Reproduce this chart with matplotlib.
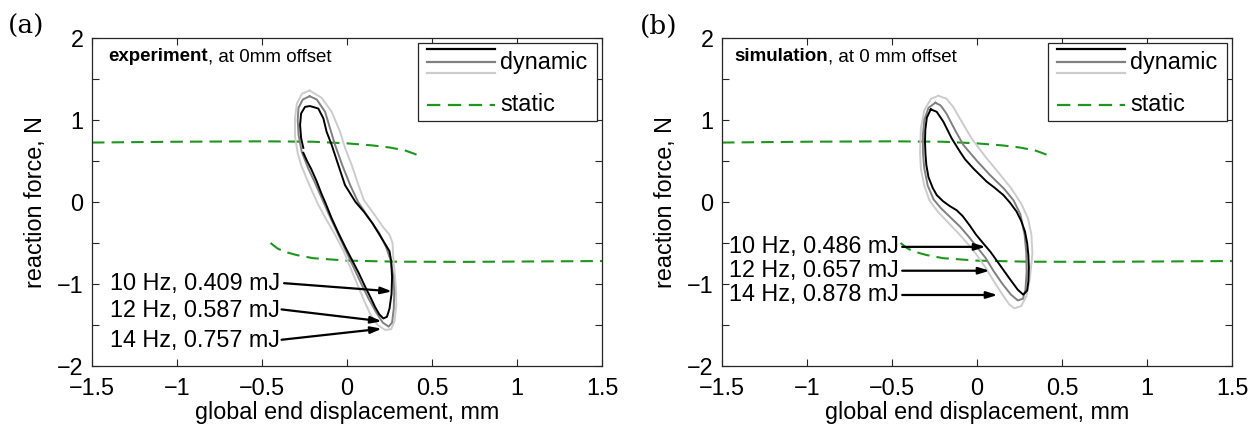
import matplotlib
matplotlib.use("Agg")
import matplotlib.pyplot as plt
import numpy as np
from matplotlib.patches import Rectangle

plt.rcParams["font.family"] = ["Liberation Sans", "DejaVu Sans"]
plt.rcParams["axes.unicode_minus"] = True

# ── Static (quasi-static) force curves, same in both panels ──────────────────
static_up_x = [-1.5, -1.0, -0.5, -0.2, 0.0, 0.15, 0.25, 0.34, 0.40, 0.43]
static_up_y = [0.725, 0.735, 0.74, 0.735, 0.715, 0.69, 0.665, 0.63, 0.585, 0.555]
static_lo_x = [-0.45, -0.41, -0.37, -0.30, -0.20, 0.0, 0.30, 0.70, 1.10, 1.50]
static_lo_y = [-0.50, -0.565, -0.605, -0.645, -0.685, -0.715, -0.728, -0.73, -0.725, -0.72]

# ── (a) experiment: dynamic loops ─────────────────────────────────────────────
exp_10hz_x = [-0.257, -0.235, -0.21, -0.178, -0.15, -0.125, -0.09, -0.05, -0.01, 0.03,
              0.07, 0.106, 0.14, 0.165, 0.19, 0.214, 0.235, 0.25, 0.262, 0.265,
              0.26, 0.25, 0.215, 0.15, 0.10, 0.05, -0.012, -0.051, -0.09, -0.12,
              -0.139, -0.169, -0.218, -0.247, -0.27, -0.276, -0.27, -0.257]
exp_10hz_y = [0.60, 0.50, 0.40, 0.25, 0.10, -0.02, -0.20, -0.38, -0.55, -0.71,
              -0.87, -1.03, -1.17, -1.28, -1.37, -1.42, -1.40, -1.30, -1.12, -0.92,
              -0.72, -0.60, -0.48, -0.26, -0.12, 0.0, 0.207, 0.45, 0.695, 0.857,
              1.02, 1.14, 1.17, 1.16, 1.08, 0.94, 0.78, 0.66]

exp_12hz_x = [-0.22, -0.26, -0.285, -0.29, -0.285, -0.266, -0.228, -0.185, -0.145, -0.10,
              -0.055, -0.01, 0.035, 0.08, 0.125, 0.17, 0.21, 0.245, 0.265, 0.275,
              0.278, 0.272, 0.255, 0.23, 0.19, 0.13, 0.065, 0.02, -0.028, -0.07,
              -0.10, -0.129, -0.178, -0.22]
exp_12hz_y = [1.29, 1.25, 1.15, 1.0, 0.82, 0.61, 0.41, 0.22, 0.03, -0.18,
              -0.38, -0.58, -0.78, -0.98, -1.17, -1.34, -1.47, -1.52, -1.47, -1.30,
              -1.10, -0.90, -0.70, -0.55, -0.38, -0.20, 0.0, 0.20, 0.45, 0.695,
              0.90, 1.10, 1.25, 1.29]

exp_14hz_x = [-0.22, -0.265, -0.295, -0.306, -0.306, -0.29, -0.27, -0.24, -0.205, -0.17,
              -0.12, -0.07, -0.02, 0.02, 0.06, 0.10, 0.14, 0.18, 0.225, 0.26,
              0.28, 0.29, 0.288, 0.28, 0.272, 0.268, 0.25, 0.21, 0.16, 0.10,
              0.06, 0.028, -0.01, -0.041, -0.09, -0.149, -0.22]
exp_14hz_y = [1.36, 1.32, 1.20, 1.02, 0.80, 0.60, 0.45, 0.30, 0.13, -0.03,
              -0.22, -0.40, -0.60, -0.80, -1.0, -1.2, -1.38, -1.50, -1.56, -1.55,
              -1.45, -1.25, -1.05, -0.85, -0.67, -0.50, -0.40, -0.30, -0.15, 0.02,
              0.25, 0.45, 0.65, 0.857, 1.10, 1.27, 1.36]

# ── (b) simulation: dynamic loops ─────────────────────────────────────────────
sim_10hz_x = [-0.272, -0.295, -0.304, -0.306, -0.303, -0.298, -0.285, -0.26, -0.237, -0.20,
              -0.16, -0.12, -0.085, -0.045, -0.005, 0.035, 0.08, 0.135, 0.19, 0.24,
              0.272, 0.295, 0.302, 0.305, 0.302, 0.295, 0.282, 0.26, 0.233, 0.195,
              0.155, 0.10, 0.057, -0.022, -0.07, -0.10, -0.149, -0.198, -0.237, -0.272]
sim_10hz_y = [1.13, 1.03, 0.88, 0.735, 0.58, 0.45, 0.30, 0.17, 0.085, 0.01,
              -0.05, -0.10, -0.17, -0.28, -0.40, -0.50, -0.61, -0.77, -0.93, -1.07,
              -1.13, -1.08, -0.97, -0.80, -0.646, -0.50, -0.36, -0.23, -0.118, -0.01,
              0.085, 0.18, 0.248, 0.41, 0.52, 0.613, 0.776, 0.98, 1.10, 1.13]

sim_12hz_x = [-0.245, -0.285, -0.31, -0.318, -0.318, -0.31, -0.29, -0.255, -0.21, -0.15,
              -0.10, -0.05, 0.0, 0.05, 0.10, 0.15, 0.20, 0.24, 0.27, 0.285,
              0.292, 0.29, 0.28, 0.255, 0.215, 0.16, 0.076, 0.0, -0.08, -0.13,
              -0.18, -0.215, -0.245]
sim_12hz_y = [1.21, 1.15, 1.0, 0.82, 0.60, 0.41, 0.20, 0.03, -0.08, -0.20,
              -0.30, -0.42, -0.55, -0.68, -0.85, -1.0, -1.13, -1.20, -1.18, -1.07,
              -0.85, -0.62, -0.40, -0.15, 0.02, 0.16, 0.33, 0.50, 0.695, 0.88,
              1.08, 1.18, 1.21]

sim_14hz_x = [-0.228, -0.27, -0.31, -0.33, -0.335, -0.33, -0.31, -0.28, -0.23, -0.17,
              -0.11, -0.05, 0.0, 0.05, 0.10, 0.15, 0.19, 0.22, 0.26, 0.29,
              0.31, 0.326, 0.32, 0.30, 0.26, 0.20, 0.13, 0.05, -0.03, -0.09,
              -0.14, -0.18, -0.228]
sim_14hz_y = [1.295, 1.26, 1.12, 0.90, 0.60, 0.40, 0.20, 0.02, -0.12, -0.25,
              -0.38, -0.52, -0.65, -0.80, -0.97, -1.13, -1.25, -1.296, -1.27, -1.15,
              -0.95, -0.63, -0.40, -0.20, -0.02, 0.17, 0.35, 0.55, 0.77, 0.98,
              1.16, 1.26, 1.295]

# ── Loop energy labels: (text, text y, arrow tail, arrow head) ────────────────
freq_labels = ["10 Hz", "12 Hz", "14 Hz"]
exp_energy = ["0.409 mJ", "0.587 mJ", "0.757 mJ"]
sim_energy = ["0.486 mJ", "0.657 mJ", "0.878 mJ"]

exp_label_y = [-0.99, -1.32, -1.69]
exp_tail = [(-0.37, -0.99), (-0.385, -1.31), (-0.385, -1.68)]
exp_head = [(0.265, -1.09), (0.205, -1.455), (0.205, -1.545)]

sim_label_y = [-0.547, -0.838, -1.134]
sim_tail = [(-0.44, -0.547), (-0.44, -0.838), (-0.44, -1.134)]
sim_head = [(0.051, -0.547), (0.074, -0.838), (0.121, -1.134)]

LOOP_COLORS = ["black", "0.5", "0.8"]
GREEN = "#1e961e"
DASH = (0, (6, 3.4))
FS = 16.8


def draw_panel(ax, loops, label_y, tails, heads, energies, text_right,
               bold, rest, title_x):
    ax.plot(static_up_x, static_up_y, ls=DASH, color=GREEN, lw=1.5)
    ax.plot(static_lo_x, static_lo_y, ls=DASH, color=GREEN, lw=1.5)
    # lightest loop underneath, black on top
    for (lx, ly), c in reversed(list(zip(loops, LOOP_COLORS))):
        ax.plot(lx, ly, color=c, lw=1.4, solid_joinstyle="round")

    for f, e, ty, t, h in zip(freq_labels, energies, label_y, tails, heads):
        ax.text(text_right, ty, f"{f}, {e}", ha="right", va="center", fontsize=FS)
        ax.annotate("", xy=h, xytext=t,
                    arrowprops=dict(arrowstyle="-|>,head_length=0.65,head_width=0.2",
                                    color="black", lw=1.6, shrinkA=0, shrinkB=0))

    ax.set_xlim(-1.5, 1.5)
    ax.set_ylim(-2, 2)
    ax.set_xticks(np.arange(-1.5, 1.51, 0.5))
    ax.set_xticklabels(["−1.5", "−1", "−0.5", "0", "0.5", "1", "1.5"])
    ax.set_yticks(np.arange(-2, 2.01, 0.5))
    ax.set_yticklabels(["−2", "", "−1", "", "0", "", "1", "", "2"])
    ax.tick_params(direction="in", length=5, width=0.8, top=True, right=True,
                   labelsize=FS, colors="0.15", labelcolor="black")
    ax.tick_params(axis="x", pad=8)
    ax.tick_params(axis="y", pad=6)
    for s in ax.spines.values():
        s.set_linewidth(0.9)
        s.set_color("0.15")
    ax.set_xlabel("global end displacement, mm", fontsize=FS, labelpad=1)
    ax.set_ylabel("reaction force, N", fontsize=FS, labelpad=7)

    t = ax.text(title_x, 0.943, bold, transform=ax.transAxes, fontsize=13.5,
                fontweight="bold", va="center", ha="left")
    ax.annotate(rest, xy=(1, 0.5), xycoords=t, va="center", ha="left",
                fontsize=13.5)

    # legend box drawn in axes coordinates
    ax.add_patch(Rectangle((0.639, 0.748), 0.352, 0.238, transform=ax.transAxes,
                           facecolor="white", edgecolor="0.15", lw=0.9, zorder=5))
    for yy, c in zip([0.966, 0.928, 0.892], LOOP_COLORS):
        ax.plot([0.656, 0.79], [yy, yy], transform=ax.transAxes, color=c, lw=1.6,
                zorder=6)
    ax.plot([0.656, 0.79], [0.796, 0.796], transform=ax.transAxes, color=GREEN,
            lw=1.6, ls=DASH, zorder=6)
    ax.text(0.800, 0.926, "dynamic", transform=ax.transAxes, fontsize=FS,
            va="center", ha="left", zorder=7)
    ax.text(0.800, 0.796, "static", transform=ax.transAxes, fontsize=FS,
            va="center", ha="left", zorder=7)


fig = plt.figure(figsize=(12.53, 4.26), dpi=100)
W, H = 1253.0, 426.0
ax_a = fig.add_axes([92 / W, 60 / H, 510 / W, 328 / H])
ax_b = fig.add_axes([722 / W, 60 / H, 510 / W, 328 / H])

draw_panel(ax_a,
           [(exp_10hz_x, exp_10hz_y), (exp_12hz_x, exp_12hz_y), (exp_14hz_x, exp_14hz_y)],
           exp_label_y, exp_tail, exp_head, exp_energy, -0.395,
           "experiment", ", at 0mm offset", 0.032)
draw_panel(ax_b,
           [(sim_10hz_x, sim_10hz_y), (sim_12hz_x, sim_12hz_y), (sim_14hz_x, sim_14hz_y)],
           sim_label_y, sim_tail, sim_head, sim_energy, -0.462,
           "simulation", ", at 0 mm offset", 0.024)

fig.text(8 / W, 1 - 26 / H, "(a)", family="DejaVu Serif", fontsize=19, va="center")
fig.text(640 / W, 1 - 26 / H, "(b)", family="DejaVu Serif", fontsize=19, va="center")

fig.savefig("out.png", dpi=100)
